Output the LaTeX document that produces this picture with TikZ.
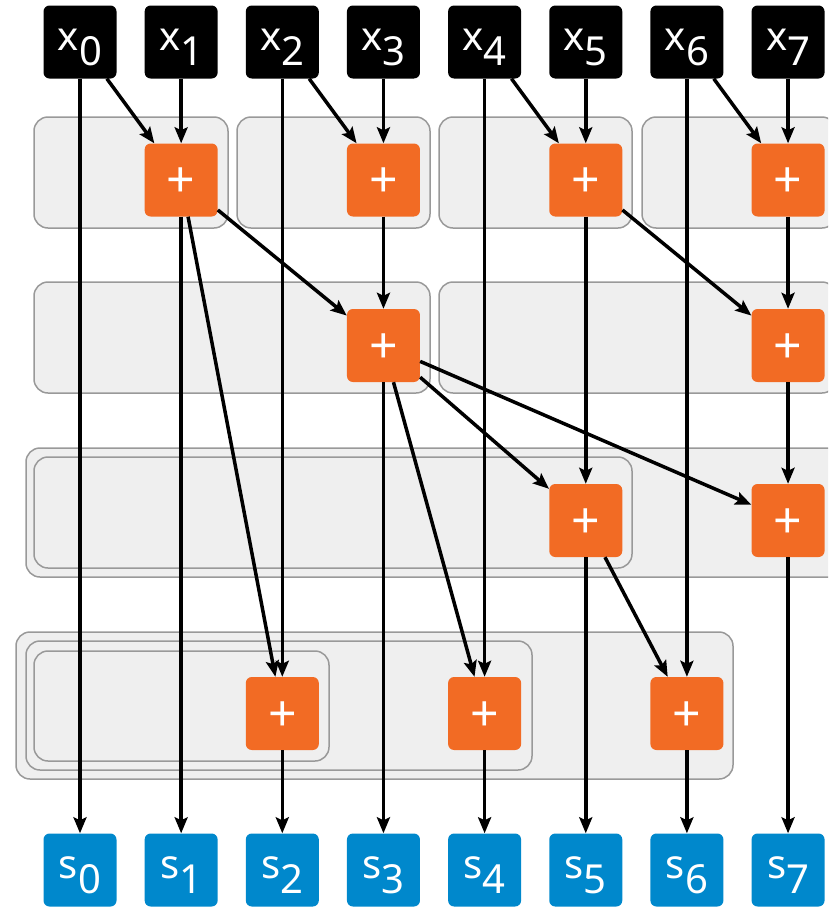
\documentclass[tikz,border=0pt]{standalone}
\usepackage{fontspec}
\setmainfont{Noto Sans}
\usetikzlibrary{arrows.meta}
\definecolor{plusorange}{RGB}{242,107,36}
\definecolor{sumblue}{RGB}{0,136,204}
\definecolor{grpfill}{RGB}{239,239,239}
\definecolor{grpline}{RGB}{153,153,153}
\newcommand\idx[2]{#1\raisebox{-15pt}{#2}}
\begin{document}
\begin{tikzpicture}[x=1pt,y=-1pt,
  box/.style={rounded corners=6pt, minimum width=73pt, minimum height=73pt, inner sep=0pt, text=white},
  inbox/.style={box, fill=black, font=\fontsize{40}{40}\selectfont, text height=26pt, text depth=10pt},
  outbox/.style={box, fill=sumblue, font=\fontsize{40}{40}\selectfont, text height=26pt, text depth=10pt},
  addbox/.style={box, fill=plusorange, font=\fontsize{50}{50}\selectfont, text height=35pt, text depth=0pt},
  grp/.style={fill=grpfill, draw=grpline, line width=1.5pt, rounded corners=14pt},
  wire/.style={line width=3.5pt, -{Stealth[length=16pt,width=13pt,inset=3pt]}}
]
\useasboundingbox (0,0) rectangle (828,908);
\clip (0,0) rectangle (828,908);
% groups
\draw[grp] (34,117) rectangle (228,228);
\draw[grp] (237,117) rectangle (430,228);
\draw[grp] (439,117) rectangle (632,228);
\draw[grp] (642,117) rectangle (836,228);
\draw[grp] (34,282) rectangle (430,393);
\draw[grp] (439,282) rectangle (836,393);
\draw[grp] (26,448) rectangle (845,577);
\draw[grp] (34,457) rectangle (632,568);
\draw[grp] (16,632) rectangle (733,779);
\draw[grp] (26,641) rectangle (532,770);
\draw[grp] (34,651) rectangle (329,761);
% nodes
\foreach \i in {0,...,7} {
  \node[inbox] (x\i) at ({80+101.15*\i},42) {\idx{x}{\i}};
  \node[outbox] (s\i) at ({80+101.15*\i},870) {\idx{s}{\i}};
}
\foreach \n/\c/\y in {A1/1/180, A3/3/180, A5/5/180, A7/7/180, B3/3/345.5, B7/7/345.5, C5/5/520.5, C7/7/520.5, D2/2/713.5, D4/4/713.5, D6/6/713.5} {
  \node[addbox] (\n) at ({80+101.15*\c},\y) {+};
}
% wires
\draw[wire] (x0) -- (s0);
\draw[wire] (x0) -- (A1);
\draw[wire] (x1) -- (A1);
\draw[wire] (x2) -- (A3);
\draw[wire] (x3) -- (A3);
\draw[wire] (x4) -- (A5);
\draw[wire] (x5) -- (A5);
\draw[wire] (x6) -- (A7);
\draw[wire] (x7) -- (A7);
\draw[wire] (x2) -- (D2);
\draw[wire] (x4) -- (D4);
\draw[wire] (x6) -- (D6);
\draw[wire] (A1) -- (s1);
\draw[wire] (A1) -- (B3);
\draw[wire] (A1) -- (D2);
\draw[wire] (A3) -- (B3);
\draw[wire] (A5) -- (B7);
\draw[wire] (A5) -- (C5);
\draw[wire] (A7) -- (B7);
\draw[wire] (B3) -- (s3);
\draw[wire] (B3) -- (C5);
\draw[wire] (B3) -- (C7);
\draw[wire] (B3) -- (D4);
\draw[wire] (B7) -- (C7);
\draw[wire] (C5) -- (s5);
\draw[wire] (C5) -- (D6);
\draw[wire] (C7) -- (s7);
\draw[wire] (D2) -- (s2);
\draw[wire] (D4) -- (s4);
\draw[wire] (D6) -- (s6);
\end{tikzpicture}
\end{document}
